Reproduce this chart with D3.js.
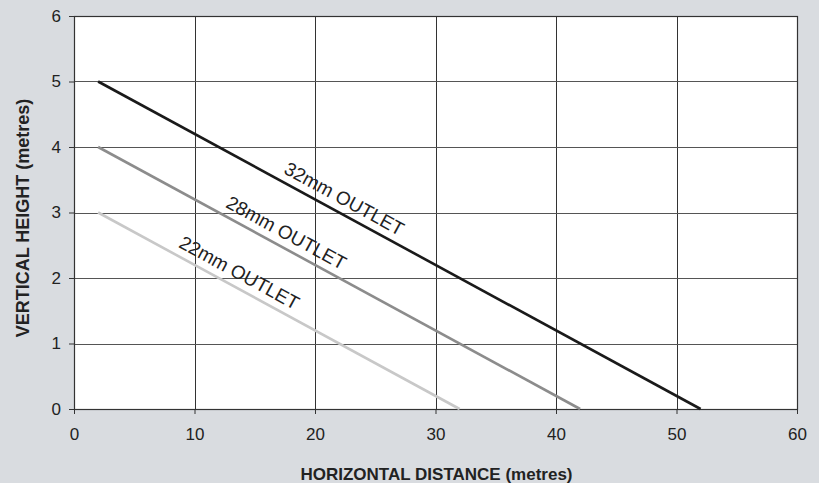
<!DOCTYPE html>
<html>
<head>
<meta charset="utf-8">
<script src="https://cdn.jsdelivr.net/npm/d3@7"></script>
<style>
  body { margin: 0; background: #d9dce0; }
  svg { display: block; }
</style>
</head>
<body>
<svg width="819" height="483"></svg>
<script>
// outlet series: start and end points (horizontal distance, vertical height)
const outlets = ["32mm OUTLET", "28mm OUTLET", "22mm OUTLET"];
const startX = [2, 2, 2];
const startY = [5, 4, 3];
const endX = [52, 42, 32];
const endY = [0, 0, 0];
const labelAt = [17.0, 12.2, 8.3];   // x value where each label starts
const xTicks = [0, 10, 20, 30, 40, 50, 60];
const yTicks = [0, 1, 2, 3, 4, 5, 6];

const lineColors = ["#1a1a1a", "#8c8c8c", "#c8c8c8"];

const svg = d3.select("svg");
const margin = { top: 16, right: 22, bottom: 74, left: 74 };
const width = 819 - margin.left - margin.right;
const height = 483 - margin.top - margin.bottom;
const font = "Arial, 'Liberation Sans', sans-serif";

const x = d3.scaleLinear().domain([0, 60]).range([0, width]);
const y = d3.scaleLinear().domain([0, 6]).range([height, 0]);

const g = svg.append("g").attr("transform", `translate(${margin.left},${margin.top})`);

g.append("rect").attr("width", width).attr("height", height).attr("fill", "#fff");

// grid
g.selectAll(".vgrid").data(xTicks.slice(1, -1)).join("line")
  .attr("x1", d => Math.round(x(d)) + 0.5).attr("x2", d => Math.round(x(d)) + 0.5)
  .attr("y1", 0).attr("y2", height)
  .attr("stroke", "#333").attr("stroke-width", 1);
g.selectAll(".hgrid").data(yTicks.slice(1, -1)).join("line")
  .attr("y1", d => Math.round(y(d)) + 0.5).attr("y2", d => Math.round(y(d)) + 0.5)
  .attr("x1", 0).attr("x2", width)
  .attr("stroke", "#555").attr("stroke-width", 1);

// frame
g.append("rect").attr("x", 0.5).attr("y", 0.5).attr("width", width).attr("height", height)
  .attr("fill", "none").attr("stroke", "#333").attr("stroke-width", 1.2);

// axes
const xAxis = g.append("g").attr("transform", `translate(0,${height})`)
  .call(d3.axisBottom(x).tickValues(xTicks).tickFormat(d3.format("d")).tickSize(5).tickPadding(14));
const yAxis = g.append("g")
  .call(d3.axisLeft(y).tickValues(yTicks).tickFormat(d3.format("d")).tickSize(5).tickPadding(8));
[xAxis, yAxis].forEach(a => {
  a.select(".domain").attr("stroke", "#333");
  a.selectAll(".tick line").attr("stroke", "#333");
  a.selectAll("text").attr("font-family", font).attr("font-size", "17px").attr("fill", "#222");
});

// series lines
const line = d3.line().x(d => x(d[0])).y(d => y(d[1]));
outlets.forEach((name, i) => {
  g.append("path")
    .datum([[startX[i], startY[i]], [endX[i], endY[i]]])
    .attr("d", line)
    .attr("fill", "none")
    .attr("stroke", lineColors[i])
    .attr("stroke-width", 2.6);

  const slope = (endY[i] - startY[i]) / (endX[i] - startX[i]);
  const lx = labelAt[i];
  const ly = startY[i] + slope * (lx - startX[i]);
  const angle = Math.atan2(y(endY[i]) - y(startY[i]), x(endX[i]) - x(startX[i])) * 180 / Math.PI;
  g.append("text")
    .attr("transform", `translate(${x(lx)},${y(ly)}) rotate(${angle}) translate(0,-8)`)
    .attr("font-family", font)
    .attr("font-size", "19px")
    .attr("fill", "#222")
    .text(name);
});

// axis titles
svg.append("text")
  .attr("x", margin.left + width / 2 + 1).attr("y", 480)
  .attr("text-anchor", "middle")
  .attr("font-family", font).attr("font-size", "17px").attr("font-weight", "bold").attr("fill", "#222")
  .text("HORIZONTAL DISTANCE (metres)");
svg.append("text")
  .attr("transform", `translate(29,218) rotate(-90)`)
  .attr("text-anchor", "middle")
  .attr("font-family", font).attr("font-size", "18px").attr("font-weight", "bold").attr("fill", "#222")
  .text("VERTICAL HEIGHT (metres)");
</script>
</body>
</html>
